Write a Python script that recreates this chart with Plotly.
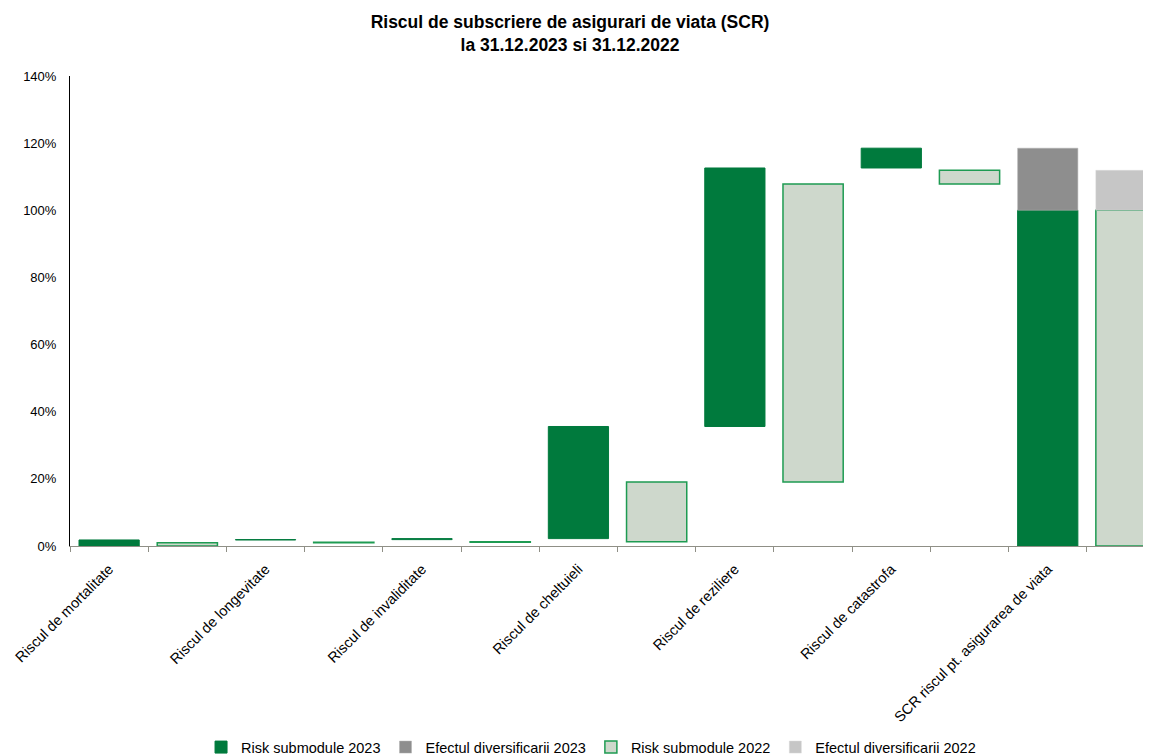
import plotly.graph_objects as go
import numpy as np

categories = ["Riscul de mortalitate", "Riscul de longevitate", "Riscul de invaliditate",
              "Riscul de cheltuieli", "Riscul de reziliere", "Riscul de catastrofa",
              "SCR riscul pt. asigurarea de viata"]

# submodule values (% of SCR) - 2023 and 2022
sub_2023 = [1.8, 0.1, 0.3, 33.4, 77.0, 5.9]
sub_2022 = [1.0, 0.1, 0.2, 17.8, 88.7, 4.1]
scr_2023 = 100.0
scr_2022 = 100.0
div_2023 = 18.5
div_2022 = 11.9

DARK_GREEN = "#007A3D"
LIGHT_FILL = "#CED8CC"
LIGHT_LINE = "#1E9B52"
GRAY = "#8E8E8E"
LIGHT_GRAY = "#C6C6C6"
FONT = "Arial, Liberation Sans, sans-serif"

n = len(categories)
x23 = [2 * i for i in range(n)]
x22 = [2 * i + 1 for i in range(n)]

def bases(vals):
    return list(np.concatenate([[0], np.cumsum(vals)[:-1]])) + [0]

base23 = bases(sub_2023)
base22 = bases(sub_2022)
y23 = sub_2023 + [scr_2023]
y22 = sub_2022 + [scr_2022]

W = 0.77
fig = go.Figure()
fig.add_trace(go.Bar(name="Risk submodule 2023", x=x23, y=y23, base=base23, width=W,
                     marker=dict(color=DARK_GREEN, line=dict(color=DARK_GREEN, width=1))))
fig.add_trace(go.Bar(name="Efectul diversificarii 2023", x=[x23[-1]], y=[div_2023], base=[scr_2023], width=W,
                     marker=dict(color=GRAY, line=dict(color="#B0B0B0", width=0.5))))
fig.add_trace(go.Bar(name="Risk submodule 2022", x=x22, y=y22, base=base22, width=W,
                     marker=dict(color=LIGHT_FILL, line=dict(color=LIGHT_LINE, width=1.5))))
fig.add_trace(go.Bar(name="Efectul diversificarii 2022", x=[x22[-1]], y=[div_2022], base=[scr_2022], width=W,
                     marker=dict(color=LIGHT_GRAY, line=dict(color="#D8D8D8", width=0.5))))
# helper invisible trace for the tick-mark axis
fig.add_trace(go.Scatter(x=[0], y=[0], xaxis="x2", mode="markers", marker=dict(opacity=0),
                         showlegend=False, hoverinfo="skip"))

xr = [-0.5, 13.32]
fig.update_layout(
    width=1143, height=748,
    margin=dict(l=62, r=0, t=68, b=210, autoexpand=False),
    paper_bgcolor="white", plot_bgcolor="white",
    barmode="overlay",
    font=dict(family=FONT, size=13, color="#000000"),
    title=dict(text="<b>Riscul de subscriere de asigurari de viata (SCR)<br>la 31.12.2023 si 31.12.2022</b>",
               x=0.4917, xanchor="center", y=0.9734, yanchor="top",
               font=dict(family=FONT, size=17.5, color="#000000")),
    xaxis=dict(range=xr, tickvals=x23, ticktext=categories, tickangle=-45, automargin=False,
               showline=True, linecolor="#8F8F86", linewidth=1, ticks="", showgrid=False,
               zeroline=False, ticklabelstandoff=8, tickfont=dict(size=14.5, family=FONT)),
    xaxis2=dict(range=xr, overlaying="x", anchor="y", side="bottom", automargin=False,
                tickvals=[i - 0.5 for i in range(15)], ticks="outside", ticklen=5,
                tickcolor="#8F8F86", showticklabels=False, showline=False, showgrid=False,
                zeroline=False),
    yaxis=dict(range=[0, 140], dtick=20, ticksuffix="%", showline=True, linecolor="#000000",
               linewidth=1, ticks="", showgrid=False, zeroline=False, ticklabelstandoff=10,
               automargin=False, tickfont=dict(size=13, family=FONT)),
    legend=dict(orientation="h", x=0.482, xanchor="center", y=-0.428, yanchor="middle",
                font=dict(size=14.5, family=FONT), traceorder="normal", itemwidth=30),
)

fig.write_html("out.html")
